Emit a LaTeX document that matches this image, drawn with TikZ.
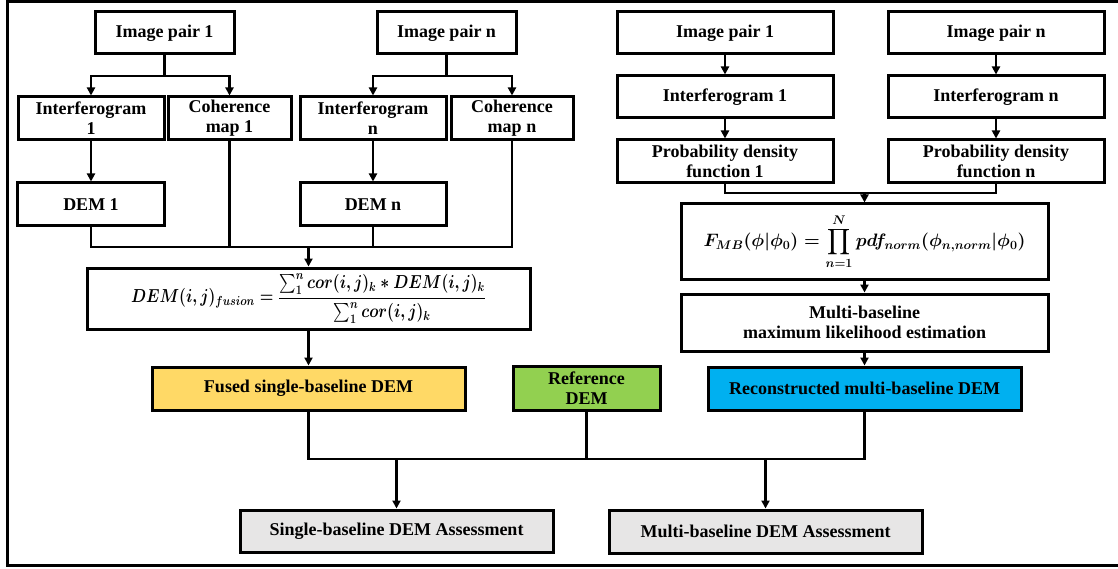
\documentclass[tikz,border=0pt]{standalone}
\usepackage{fontspec}
\usepackage{amsmath}
\usepackage{graphicx}
\setmainfont{Liberation Serif}
\usetikzlibrary{arrows.meta}
\definecolor{fusedc}{HTML}{FFD966}
\definecolor{refc}{HTML}{92D050}
\definecolor{recc}{HTML}{00B0F0}
\definecolor{assc}{HTML}{E7E6E6}
\begin{document}
\begin{tikzpicture}[x=1pt,y=-1pt,
box/.style={draw, line width=3pt, align=center, inner sep=0pt, font=\fontsize{18}{20}\selectfont\bfseries},
arr/.style={line width=2.4pt, -{Triangle[length=8pt,width=8pt]}},
ln/.style={line width=2.4pt}]
\useasboundingbox (0,0) rectangle (1118,569);
\draw[line width=3pt] (1125,2) -- (7,2) -- (7,565) -- (1125,565);
\node[box, minimum width=139, minimum height=42] (pair1) at (164.5,33){Image pair 1};
\node[box, minimum width=139, minimum height=42] (pairn) at (446.5,33){Image pair n};
\node[box, minimum width=146, minimum height=43] (int1) at (91,118.5){Interferogram\\1};
\node[box, minimum width=123, minimum height=43] (coh1) at (229.5,118.5){Coherence\\map 1};
\node[box, minimum width=146, minimum height=43] (intn) at (373,118.5){Interferogram\\n};
\node[box, minimum width=122, minimum height=43] (cohn) at (512,118.5){Coherence\\map n};
\node[box, minimum width=147, minimum height=43] (dem1) at (91,204.5){DEM 1};
\node[box, minimum width=146, minimum height=43] (demn) at (373,204.5){DEM n};
\coordinate (j1) at (164.5,76);
\coordinate (jn) at (446.5,76);
\draw[ln](pair1) -- (j1);
\draw[arr](j1) -| (int1);
\draw[arr](j1) -| (coh1);
\draw[ln](pairn) -- (jn);
\draw[arr](jn) -| (intn);
\draw[arr](jn) -| (cohn);
\draw[arr](int1) -- (dem1);
\draw[arr](intn) -- (demn);
\node[box, minimum width=443, minimum height=61] (fus) at (308.5,298.5){\resizebox*{355pt}{49pt}{\boldmath$DEM(i,j)_{fusion}=\dfrac{\sum_1^n cor(i,j)_k * DEM(i,j)_k}{\sum_1^n cor(i,j)_k}$}};
\coordinate (jf) at (308.5,247);
\draw[ln](dem1) |- (jf);
\draw[ln](cohn) |- (jf);
\draw[ln](coh1) -- (coh1 |- jf);
\draw[ln](demn) -- (demn |- jf);
\draw[arr](jf) -- (fus);
\node[box, fill=fusedc, minimum width=313, minimum height=43] (fused) at (308.5,388.5){Fused single-baseline DEM};
\draw[arr](fus) -- (fused);
\node[box, minimum width=216, minimum height=42] (pairR1) at (725,33){Image pair 1};
\node[box, minimum width=216, minimum height=42] (pairRn) at (996,33){Image pair n};
\node[box, minimum width=216, minimum height=42] (intR1) at (725,97){Interferogram 1};
\node[box, minimum width=216, minimum height=42] (intRn) at (996,97){Interferogram n};
\node[box, minimum width=216, minimum height=43] (pdf1) at (725,161.5){Probability density\\function 1};
\node[box, minimum width=216, minimum height=43] (pdfn) at (996,161.5){Probability density\\function n};
\draw[arr](pairR1) -- (intR1);
\draw[arr](pairRn) -- (intRn);
\draw[arr](intR1) -- (pdf1);
\draw[arr](intRn) -- (pdfn);
\node[box, minimum width=367, minimum height=75] (fmb) at (864.5,241.5){\resizebox{322pt}{!}{\boldmath$F_{MB}(\phi|\phi_0)=\displaystyle\prod_{n=1}^{N}pdf_{norm}(\phi_{n,norm}|\phi_0)$}};
\coordinate (jr) at (864.5,193);
\draw[ln](pdf1) |- (jr);
\draw[ln](pdfn) |- (jr);
\draw[arr](jr) -- (fmb);
\node[box, minimum width=367, minimum height=57] (ml) at (864.5,322.5){Multi-baseline\\maximum likelihood estimation};
\node[box, fill=recc, minimum width=313, minimum height=43] (rec) at (864.5,388.5){Reconstructed multi-baseline DEM};
\draw[arr](fmb) -- (ml);
\draw[arr](ml) -- (rec);
\node[box, fill=refc, minimum width=147, minimum height=44] (ref) at (586.5,388){Reference\\DEM};
\node[box, fill=assc, minimum width=313, minimum height=42] (single) at (396.5,531){Single-baseline DEM Assessment};
\node[box, fill=assc, minimum width=313, minimum height=43] (multi) at (765.5,531.5){Multi-baseline DEM Assessment};
\coordinate (ja) at (396.5,459);
\coordinate (jb) at (765.5,459);
\draw[ln](fused) |- (jb);
\draw[ln](rec) |- (ja);
\draw[ln](ref) -- (ref |- ja);
\draw[arr](ja) -- (single);
\draw[arr](jb) -- (multi);
\end{tikzpicture}
\end{document}
